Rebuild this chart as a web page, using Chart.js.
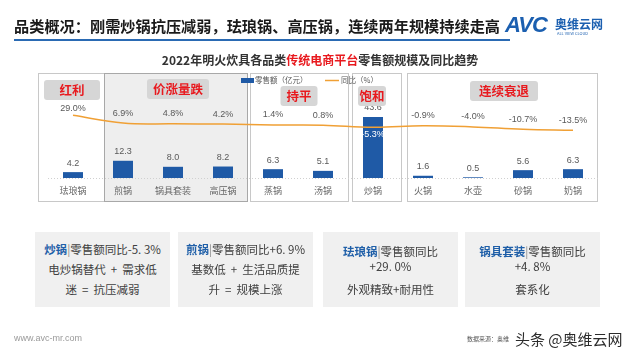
<!DOCTYPE html>
<html><head><meta charset="utf-8">
<script src="https://cdn.jsdelivr.net/npm/chart.js@4"></script>
<style>
html,body{margin:0;padding:0;background:#fff;}
#wrap{position:relative;width:640px;height:360px;overflow:hidden;font-family:"Noto Sans CJK SC","Noto Sans",sans-serif;}
#c{position:absolute;left:0;top:0;}
.abs{position:absolute;white-space:nowrap;}
#title{left:14px;top:14px;font-size:15.2px;font-weight:bold;color:#1a1a1a;letter-spacing:0px;}
#rule{left:14px;top:39px;width:496px;height:2px;background:#2a6ab3;}
#logo{left:505px;top:12px;color:#1b5fb0;}
.card{position:absolute;top:232px;width:135px;height:75px;background:#f0f0f0;text-align:center;color:#404040;font-size:11.5px;line-height:20px;}
.card b{color:#1f5fa8;}
.card .bar{color:#8a8a8a;}
.sp{display:inline-block;width:5px;}
</style></head>
<body><div id="wrap">
<canvas id="c" width="640" height="360"></canvas>
<div id="title" class="abs">品类概况：刚需炒锅抗压减弱，珐琅锅、高压锅，连续两年规模持续走高</div>
<div id="rule" class="abs"></div>
<div id="logo" class="abs"><span style="font:italic bold 22px 'Liberation Sans',sans-serif;letter-spacing:-1px;">AVC</span><span style="position:absolute;left:50px;top:3px;font-size:12px;font-weight:bold;">奥维云网</span><span style="position:absolute;left:52px;top:18px;font-size:4px;">ALL VIEW CLOUD</span></div>
<div class="card" style="left:35px;padding-top:7px;height:68px;"><b>炒锅</b><span class="bar">|</span>零售额同比-5. 3%<br>电炒锅替代<span class="sp"></span>+<span class="sp"></span>需求低<br>迷<span class="sp"></span>=<span class="sp"></span>抗压减弱</div>
<div class="card" style="left:178px;padding-top:7px;height:68px;"><b>煎锅</b><span class="bar">|</span>零售额同比+6. 9%<br>基数低<span class="sp"></span>+<span class="sp"></span>生活品质提<br>升<span class="sp"></span>=<span class="sp"></span>规模上涨</div>
<div class="card" style="left:323px;padding-top:12px;height:63px;line-height:15px;"><b>珐琅锅</b><span class="bar">|</span>零售额同比<br>+29. 0%<div style="margin-top:8px;">外观精致+耐用性</div></div>
<div class="card" style="left:465px;padding-top:12px;height:63px;line-height:15px;"><b>锅具套装</b><span class="bar">|</span>零售额同比<br>+4. 8%<div style="margin-top:8px;">套系化</div></div>
<div class="abs" style="left:14px;top:333px;font-size:9px;color:#9a9a9a;font-family:'Liberation Sans',sans-serif;">www.avc-mr.com</div>
<div class="abs" style="left:467px;top:334px;font-size:6px;color:#555;">数据来源：奥维</div>
<div class="abs" style="left:515px;top:328px;font-size:15px;color:#2b2b2b;text-shadow:0 0 2px #fff;">头条 @奥维云网</div>
</div>
<script>
const categories = ["珐琅锅","煎锅","锅具套装","高压锅","蒸锅","汤锅","炒锅","火锅","水壶","砂锅","奶锅"];
const salesValues = [4.2, 12.3, 8.0, 8.2, 6.3, 5.1, 43.6, 1.6, 0.5, 5.6, 6.3];
const yoyValues = [29.0, 6.9, 4.8, 4.2, 1.4, 0.8, -5.3, -0.9, -4.0, -10.7, -13.5];
const groupNames = ["红利","价涨量跌","持平","饱和","连续衰退"];
const groupRanges = [[0,0],[1,3],[4,5],[6,6],[7,10]];
const legendLabels = ["零售额（亿元）","同比（%）"];
const chartTitle = ["2022年明火炊具各品类","传统电商平台","零售额规模及同比趋势"];

const BLUE = "#1f5aa6", ORANGE = "#f0a035";
const frameStyle = [
  {padL:35,padR:31,fill:null,stroke:"#c8c8c8"},
  {padL:19,padR:24,fill:"#eeeeee",stroke:"#a8a8a8"},
  {padL:23,padR:25,fill:null,stroke:"#c8c8c8"},
  {padL:21,padR:28,fill:null,stroke:"#c8c8c8"},
  {padL:16,padR:24,fill:null,stroke:"#c8c8c8"}
];
const tagStyle = [
  {cx:72,y:80,w:56},{cx:178,y:79,w:62},{cx:299,y:86,w:37},{cx:372,y:86,w:28},{cx:504,y:81,w:68}
];

const decor = {
  id:"decor",
  beforeDatasetsDraw(chart){
    const ctx = chart.ctx, x = chart.scales.x, ca = chart.chartArea;
    ctx.save();
    groupRanges.forEach((r,i)=>{
      const s = frameStyle[i];
      const l = x.getPixelForValue(r[0]) - s.padL, rr = x.getPixelForValue(r[1]) + s.padR;
      const t = ca.top, b = 201;
      if (s.fill){ctx.fillStyle = s.fill; ctx.fillRect(l,t,rr-l,b-t);}
      ctx.strokeStyle = s.stroke; ctx.lineWidth = 1;
      ctx.strokeRect(Math.round(l)+0.5, t+0.5, rr-l, b-t);
    });
    ctx.strokeStyle = "#d0d0d0"; ctx.setLineDash([1,2]);
    ctx.beginPath(); ctx.moveTo(ca.left, ca.bottom+0.5); ctx.lineTo(ca.right, ca.bottom+0.5); ctx.stroke();
    ctx.setLineDash([]);
    ctx.font = "bold 12px 'Noto Sans CJK SC'";
    ctx.textBaseline = "middle";
    const ws = chartTitle.map(t=>ctx.measureText(t).width);
    let tx = 320 - ws.reduce((a,b)=>a+b,0)/2;
    chartTitle.forEach((t,i)=>{ctx.fillStyle = i===1?"#e8191e":"#333"; ctx.textAlign="left"; ctx.fillText(t,tx,60); tx+=ws[i];});
    ctx.font = "9px 'Noto Sans CJK SC'"; ctx.fillStyle = "#666"; ctx.textAlign = "center";
    categories.forEach((c,i)=>ctx.fillText(c, x.getPixelForValue(i), 191));
    ctx.restore();
  },
  afterDatasetsDraw(chart){
    const ctx = chart.ctx;
    const barMeta = chart.getDatasetMeta(0), lineMeta = chart.getDatasetMeta(1);
    ctx.save();
    ctx.font = "9px 'Liberation Sans'"; ctx.textAlign = "center"; ctx.textBaseline = "middle";
    barMeta.data.forEach((el,i)=>{
      ctx.fillStyle = "#595959";
      ctx.fillText(salesValues[i].toFixed(1), el.x, el.y - 9);
    });
    lineMeta.data.forEach((el,i)=>{
      const v = yoyValues[i];
      if (i===6){ctx.fillStyle="#fff"; ctx.fillText(v.toFixed(1)+"%", el.x, el.y+7);}
      else {ctx.fillStyle="#595959"; ctx.fillText(v.toFixed(1)+"%", el.x, el.y - (i===0?7:10));}
    });
    ctx.fillStyle = BLUE; ctx.fillRect(241,78,13,5);
    ctx.font = "7.5px 'Noto Sans CJK SC'"; ctx.textAlign="left"; ctx.fillStyle="#595959";
    ctx.fillText(legendLabels[0], 255, 80.5);
    ctx.strokeStyle = ORANGE; ctx.lineWidth = 1.5;
    ctx.beginPath(); ctx.moveTo(325,80.5); ctx.lineTo(339,80.5); ctx.stroke();
    ctx.fillText(legendLabels[1], 341, 80.5);
    groupNames.forEach((g,i)=>{
      const s = tagStyle[i];
      ctx.fillStyle = "#d6d6d6";
      ctx.beginPath(); ctx.roundRect(s.cx - s.w/2, s.y, s.w, 20, 3); ctx.fill();
      ctx.fillStyle = "#e8191e"; ctx.font = "bold 12.5px 'Noto Sans CJK SC'"; ctx.textAlign="center";
      ctx.fillText(g, s.cx, s.y + 10.5);
    });
    ctx.restore();
  }
};

new Chart(document.getElementById("c"), {
  data:{
    labels: categories,
    datasets:[
      {type:"bar", data: salesValues, backgroundColor: BLUE, yAxisID:"y", order:2,
       categoryPercentage:1, barPercentage:0.4},
      {type:"line", data: yoyValues, borderColor: ORANGE, borderWidth:1.5, pointRadius:0,
       tension:0.4, yAxisID:"y2", order:1}
    ]
  },
  options:{
    responsive:false, devicePixelRatio:1, animation:false,
    layout:{padding:{left:48,right:42,top:73,bottom:182}},
    plugins:{legend:{display:false}, tooltip:{enabled:false}},
    scales:{
      x:{display:false},
      y:{display:false, min:0, max:75},
      y2:{display:false, min:-150, max:150}
    }
  },
  plugins:[decor]
});
</script>
</body></html>
